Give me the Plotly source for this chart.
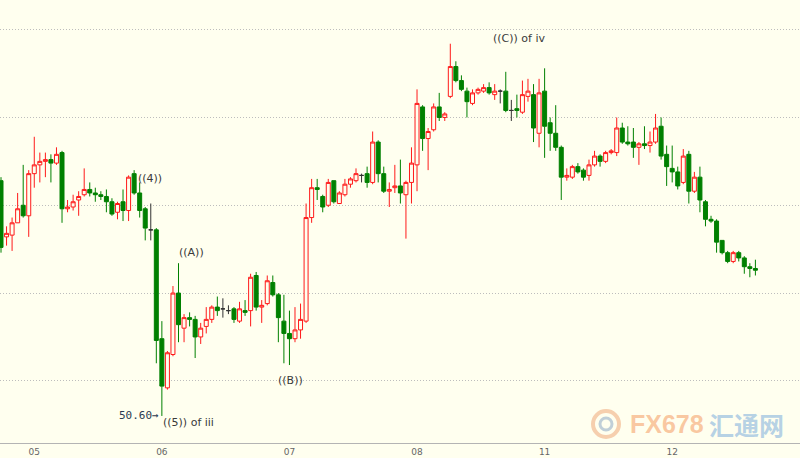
import plotly.graph_objects as go

# ---------------- data (hourly candles) ----------------
day_labels = ["05", "06", "07", "08", "11", "12"]
day_start_idx = [6, 29, 52, 75, 98, 121]

opens = [51.94, 51.62, 51.63, 51.70, 51.80, 51.74, 51.98, 52.03, 52.05, 52.06,
         52.04, 52.10, 51.78, 51.79, 51.83, 51.86, 51.89, 51.87, 51.86, 51.85,
         51.82, 51.76, 51.82, 51.77, 51.98, 51.87, 51.78, 51.66, 51.66, 51.04,
         50.76, 50.95, 51.30, 51.10, 51.16, 51.15, 51.05, 51.11, 51.15, 51.22,
         51.21, 51.20, 51.21, 51.14, 51.20, 51.20, 51.40, 51.22, 51.24, 51.36,
         51.29, 51.14, 51.07, 51.04, 51.09, 51.14, 51.73, 51.90, 51.85, 51.80,
         51.94, 51.81, 51.86, 51.92, 51.94, 51.97, 51.98, 51.93, 52.16, 51.98,
         51.88, 51.90, 51.91, 51.86, 51.93, 52.03, 52.36, 52.18, 52.23, 52.36,
         52.30, 52.42, 52.59, 52.51, 52.45, 52.38, 52.44, 52.45, 52.47, 52.43,
         52.45, 52.45, 52.34, 52.35, 52.33, 52.42, 52.43, 52.21, 52.45, 52.27,
         52.21, 52.13, 51.96, 51.96, 52.02, 52.00, 51.97, 52.03, 52.08, 52.05,
         52.10, 52.10, 52.24, 52.16, 52.16, 52.13, 52.15, 52.14, 52.16, 52.25,
         52.09, 52.01, 51.99, 51.93, 52.09, 51.88, 51.96, 51.82, 51.72, 51.71,
         51.60, 51.53, 51.48, 51.53, 51.50, 51.45, 51.44]

highs = [51.96, 51.68, 51.73, 51.87, 52.03, 52.00, 52.19, 52.10, 52.10, 52.09,
         52.13, 52.11, 51.83, 51.86, 51.88, 52.01, 51.93, 51.90, 51.88, 51.89,
         51.84, 51.82, 51.89, 51.97, 52.00, 51.93, 51.79, 51.81, 51.67, 51.14,
         50.97, 51.34, 51.47, 51.18, 51.19, 51.17, 51.13, 51.22, 51.23, 51.28,
         51.27, 51.23, 51.22, 51.25, 51.26, 51.41, 51.42, 51.26, 51.40, 51.40,
         51.30, 51.29, 51.20, 51.22, 51.24, 51.81, 51.95, 51.95, 51.86, 51.95,
         51.94, 51.88, 51.95, 51.96, 52.01, 51.98, 52.02, 52.22, 52.17, 52.02,
         51.93, 52.03, 52.06, 51.94, 52.13, 52.46, 52.37, 52.24, 52.38, 52.44,
         52.33, 52.72, 52.62, 52.54, 52.47, 52.46, 52.47, 52.49, 52.50, 52.49,
         52.46, 52.56, 52.40, 52.43, 52.51, 52.52, 52.49, 52.52, 52.58, 52.30,
         52.37, 52.14, 52.01, 52.03, 52.04, 52.01, 52.06, 52.11, 52.09, 52.11,
         52.12, 52.30, 52.27, 52.25, 52.24, 52.16, 52.25, 52.22, 52.32, 52.30,
         52.14, 52.14, 52.02, 52.12, 52.11, 51.99, 52.02, 51.83, 51.74, 51.72,
         51.60, 51.54, 51.54, 51.54, 51.51, 51.47, 51.49]

lows = [51.53, 51.57, 51.54, 51.70, 51.73, 51.62, 51.90, 51.93, 51.96, 51.93,
        52.03, 51.70, 51.76, 51.77, 51.74, 51.85, 51.85, 51.82, 51.83, 51.76,
        51.74, 51.72, 51.71, 51.71, 51.86, 51.73, 51.60, 51.60, 50.90, 50.60,
        50.75, 50.94, 51.02, 51.02, 51.11, 50.93, 51.01, 51.07, 51.13, 51.17,
        51.16, 51.18, 51.13, 51.13, 51.17, 51.11, 51.20, 51.13, 51.23, 51.28,
        51.02, 50.90, 50.89, 51.02, 51.04, 51.13, 51.70, 51.83, 51.76, 51.79,
        51.81, 51.81, 51.85, 51.90, 51.93, 51.93, 51.90, 51.92, 51.93, 51.87,
        51.79, 51.87, 51.81, 51.61, 51.81, 51.88, 52.11, 52.00, 52.22, 52.28,
        52.28, 52.41, 52.50, 52.45, 52.30, 52.37, 52.43, 52.44, 52.43, 52.40,
        52.38, 52.33, 52.28, 52.30, 52.32, 52.39, 52.16, 52.13, 52.07, 52.11,
        52.11, 51.83, 51.94, 51.95, 51.98, 51.94, 51.94, 52.02, 52.02, 52.04,
        52.09, 52.08, 52.15, 52.14, 52.07, 52.03, 52.12, 52.10, 52.15, 52.06,
        51.91, 51.93, 51.89, 51.92, 51.81, 51.87, 51.76, 51.68, 51.70, 51.53,
        51.52, 51.47, 51.47, 51.48, 51.41, 51.39, 51.40]

closes = [51.56, 51.64, 51.70, 51.78, 51.74, 51.98, 52.03, 52.05, 52.06, 52.04,
          52.09, 51.78, 51.79, 51.82, 51.85, 51.89, 51.87, 51.86, 51.85, 51.82,
          51.75, 51.81, 51.77, 51.96, 51.87, 51.77, 51.67, 51.66, 51.03, 50.77,
          50.96, 51.30, 51.12, 51.16, 51.15, 51.05, 51.10, 51.15, 51.22, 51.20,
          51.21, 51.20, 51.15, 51.21, 51.19, 51.39, 51.22, 51.23, 51.37, 51.29,
          51.16, 51.07, 51.04, 51.09, 51.15, 51.73, 51.90, 51.89, 51.79, 51.93,
          51.82, 51.87, 51.92, 51.95, 51.98, 51.97, 51.93, 52.16, 51.98, 51.88,
          51.89, 51.91, 51.87, 51.93, 52.04, 52.38, 52.18, 52.22, 52.36, 52.30,
          52.32, 52.59, 52.51, 52.46, 52.39, 52.44, 52.46, 52.47, 52.44, 52.45,
          52.45, 52.34, 52.34, 52.34, 52.43, 52.45, 52.24, 52.44, 52.25, 52.21,
          52.13, 51.96, 51.97, 52.02, 51.99, 51.96, 52.03, 52.08, 52.05, 52.10,
          52.11, 52.24, 52.16, 52.15, 52.13, 52.15, 52.14, 52.16, 52.24, 52.08,
          52.02, 51.99, 51.91, 52.08, 51.88, 51.96, 51.83, 51.72, 51.71, 51.59,
          51.53, 51.48, 51.53, 51.50, 51.45, 51.44, 51.43]

grid_levels = [50.80, 51.30, 51.80, 52.30, 52.80]

# ---------------- styling ----------------
BG = "#FFFFEF"
UP = "#FF1A1A"
DOWN = "#008000"
FLAT = "#333333"

groups = {"up": [], "down": [], "flat": []}
for i in range(len(opens)):
    if closes[i] > opens[i]:
        groups["up"].append(i)
    elif closes[i] < opens[i]:
        groups["down"].append(i)
    else:
        groups["flat"].append(i)

styles = {"up": (UP, BG), "down": (DOWN, DOWN), "flat": (FLAT, FLAT)}

fig = go.Figure()
for key, ids in groups.items():
    line_c, fill_c = styles[key]
    st = dict(line=dict(color=line_c, width=1), fillcolor=fill_c)
    fig.add_trace(go.Candlestick(
        x=ids,
        open=[opens[i] for i in ids],
        high=[highs[i] for i in ids],
        low=[lows[i] for i in ids],
        close=[closes[i] for i in ids],
        increasing=st, decreasing=st,
        whiskerwidth=0, showlegend=False, hoverinfo="skip",
    ))

low_i = min(range(len(lows)), key=lambda i: lows[i])

label_font = dict(family="DejaVu Sans", size=11, color="#3a3a3a")
ann = [
    dict(x=24.4, y=51.95, text="((4))", xanchor="left", yanchor="middle"),
    dict(x=31.8, y=51.53, text="((A))", xanchor="left", yanchor="middle"),
    dict(x=52.2, y=50.80, text="((B))", xanchor="center", yanchor="middle"),
    dict(x=93.3, y=52.75, text="((C)) of iv", xanchor="center", yanchor="middle"),
    dict(x=low_i - 0.2, y=lows[low_i] - 0.04, text="((5)) of iii", xanchor="left", yanchor="middle"),
]
for a in ann:
    fig.add_annotation(showarrow=False, font=label_font, **a)

fig.add_annotation(x=low_i - 0.1, y=lows[low_i], text="50.60→", xanchor="right", yanchor="middle",
                   showarrow=False, font=dict(family="DejaVu Sans Mono", size=11, color="#2b3a52"))

# watermark
H_PLOT = 443.0
def py(ypx):
    return (H_PLOT - ypx) / H_PLOT

fig.add_shape(type="circle", xref="paper", yref="paper",
              x0=593 / 800, x1=619 / 800, y0=py(437), y1=py(411),
              line=dict(color="rgba(240,175,130,0.6)", width=4))
fig.add_shape(type="circle", xref="paper", yref="paper",
              x0=600 / 800, x1=612 / 800, y0=py(430), y1=py(418),
              line=dict(color="rgba(150,175,200,0.6)", width=3))
fig.add_annotation(xref="paper", yref="paper", x=667 / 800, y=py(424), text="<b>FX678</b>",
                   showarrow=False, xanchor="center", yanchor="middle",
                   font=dict(family="Liberation Sans", size=25,
                             color="rgba(248,185,140,0.8)"))
fig.add_annotation(xref="paper", yref="paper", x=746 / 800, y=py(424), text="<b>汇通网</b>",
                   showarrow=False, xanchor="center", yanchor="middle",
                   font=dict(family="Noto Sans CJK SC", size=25, color="rgba(160,195,225,0.75)"))

fig.update_layout(
    width=800, height=458,
    margin=dict(l=0, r=0, t=0, b=15),
    paper_bgcolor=BG, plot_bgcolor=BG,
    showlegend=False,
    boxgap=0.1, boxgroupgap=0.2,
    xaxis=dict(range=[-0.18, 144.04], tickvals=day_start_idx, ticktext=day_labels,
               showgrid=False, zeroline=False, showline=True, linecolor="#b4b4b4",
               ticks="", tickfont=dict(family="DejaVu Sans", size=9, color="#666666"),
               rangeslider=dict(visible=False), fixedrange=True),
    yaxis=dict(range=[50.446, 52.969], tickvals=grid_levels, showticklabels=False,
               showgrid=True, gridcolor="#bdbdbd", griddash="1px,2px", gridwidth=1,
               zeroline=False, showline=False, fixedrange=True),
)

fig.write_html("out.html", config={"displayModeBar": False},
               post_script="document.body.style.margin='0';document.body.style.background='%s';" % BG)
